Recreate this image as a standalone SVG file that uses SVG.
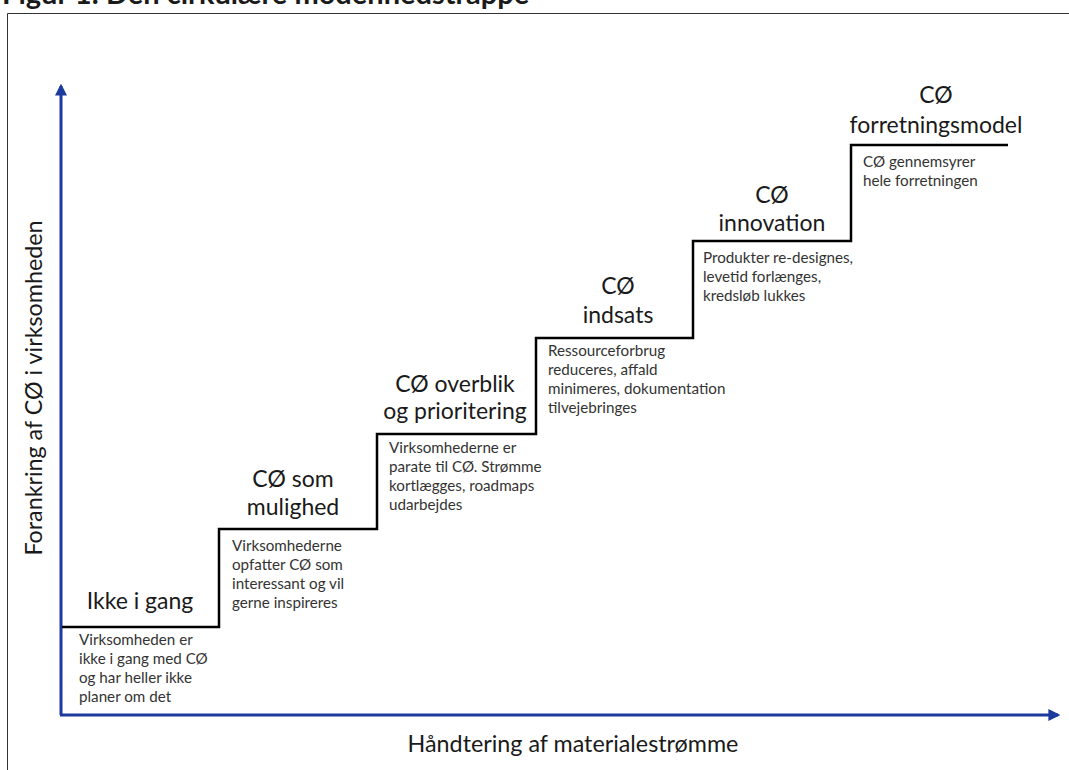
<svg xmlns="http://www.w3.org/2000/svg" width="1069" height="770" viewBox="0 0 1069 770">
<defs>
<style>
.title{font-family:Lato,"Liberation Sans",sans-serif;font-size:23px;fill:#1a1a1a;text-anchor:middle}
.desc{font-family:Lato,"Liberation Sans",sans-serif;font-size:15.2px;fill:#333}
.axis{font-family:Lato,"Liberation Sans",sans-serif;font-size:23.3px;fill:#1a1a1a;text-anchor:middle}
.head{font-family:Lato,"Liberation Sans",sans-serif;font-size:29px;font-weight:bold;fill:#1a1a1a}
.ax{stroke:#1c3b9c;stroke-width:3;fill:none}
</style>
<marker id="arr" viewBox="0 0 10 10" refX="8" refY="5" markerWidth="4" markerHeight="4" orient="auto" markerUnits="strokeWidth">
<path d="M0,0 L10,5 L0,10 z" fill="#1c3b9c"/>
</marker>
</defs>
<rect width="1069" height="770" fill="#fff"/>
<text class="head" x="2" y="4">Figur 1: Den cirkulære modenhedstrappe</text>
<path d="M7.5,770 V13.5 H1069" fill="none" stroke="#333" stroke-width="1"/>
<g id="connectors">
<path class="ax" d="M61,715 V86" marker-end="url(#arr)"/>
<path class="ax" d="M60,715 H1058" marker-end="url(#arr)"/>
</g>
<g id="staircase">
<path d="M62,627 H219 V529 H377 V434 H536 V338 H693 V241 H851 V145 H1008" fill="none" stroke="#000" stroke-width="2.5"/>
</g>
<g id="step1">
<text class="title" x="140" y="609">Ikke i gang</text>
<text class="desc" x="79" y="645">Virksomheden er</text>
<text class="desc" x="79" y="664">ikke i gang med CØ</text>
<text class="desc" x="79" y="683">og har heller ikke</text>
<text class="desc" x="79" y="702">planer om det</text>
</g>
<g id="step2">
<text class="title" x="293" y="487">CØ som</text>
<text class="title" x="293" y="515">mulighed</text>
<text class="desc" x="232" y="551">Virksomhederne</text>
<text class="desc" x="232" y="570">opfatter CØ som</text>
<text class="desc" x="232" y="589">interessant og vil</text>
<text class="desc" x="232" y="608">gerne inspireres</text>
</g>
<g id="step3">
<text class="title" x="455" y="392">CØ overblik</text>
<text class="title" x="455" y="419">og prioritering</text>
<text class="desc" x="389" y="453">Virksomhederne er</text>
<text class="desc" x="389" y="472">parate til CØ. Strømme</text>
<text class="desc" x="389" y="491">kortlægges, roadmaps</text>
<text class="desc" x="389" y="510">udarbejdes</text>
</g>
<g id="step4">
<text class="title" x="618" y="294">CØ</text>
<text class="title" x="618" y="323">indsats</text>
<text class="desc" x="548" y="356">Ressourceforbrug</text>
<text class="desc" x="548" y="375">reduceres, affald</text>
<text class="desc" x="548" y="394">minimeres, dokumentation</text>
<text class="desc" x="548" y="413">tilvejebringes</text>
</g>
<g id="step5">
<text class="title" x="772" y="203">CØ</text>
<text class="title" x="772" y="231">innovation</text>
<text class="desc" x="703" y="263">Produkter re-designes,</text>
<text class="desc" x="703" y="282">levetid forlænges,</text>
<text class="desc" x="703" y="301">kredsløb lukkes</text>
</g>
<g id="step6">
<text class="title" x="936" y="103">CØ</text>
<text class="title" x="936" y="133">forretningsmodel</text>
<text class="desc" x="863" y="167">CØ gennemsyrer</text>
<text class="desc" x="863" y="186">hele forretningen</text>
</g>
<g id="axis-labels">
<text class="axis" x="573" y="752">Håndtering af materialestrømme</text>
<text class="axis" transform="translate(42,388) rotate(-90)" x="0" y="0">Forankring af CØ i virksomheden</text>
</g>
</svg>
